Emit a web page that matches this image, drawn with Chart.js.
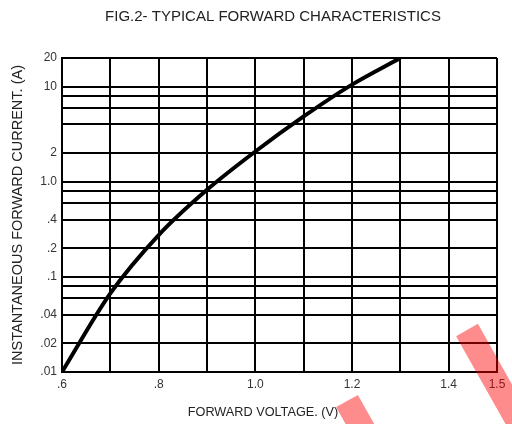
<!DOCTYPE html>
<html>
<head>
<meta charset="utf-8">
<script src="https://cdn.jsdelivr.net/npm/chart.js@4.4.1/dist/chart.umd.min.js"></script>
<style>
  html, body { margin: 0; padding: 0; background: #fff; }
</style>
</head>
<body>
<canvas id="grafico" width="512" height="424"></canvas>
<script>
// Datos (voltaje en V, corriente en A)
const voltaje = [0.6, 0.7, 0.8, 0.9, 1.0, 1.1, 1.2, 1.3];
const corriente = [0.01, 0.067, 0.275, 0.822, 2.08, 4.86, 10.5, 20];

// Líneas de la rejilla y etiquetas de los ejes
const lineasY = [0.01, 0.02, 0.04, 0.06, 0.08, 0.1, 0.2, 0.4, 0.6, 0.8, 1, 2, 4, 6, 8, 10, 20];
const etiquetasY = { 0.01: '.01', 0.02: '.02', 0.04: '.04', 0.1: '.1', 0.2: '.2', 0.4: '.4', 1: '1.0', 2: '2', 10: '10', 20: '20' };
const etiquetasX = { 6: '.6', 8: '.8', 10: '1.0', 12: '1.2', 14: '1.4', 15: '1.5' };

const titulo = 'FIG.2- TYPICAL FORWARD CHARACTERISTICS';
const tituloX = 'FORWARD VOLTAGE. (V)';
const tituloY = 'INSTANTANEOUS FORWARD CURRENT. (A)';

const fuente = "'Liberation Sans', Arial, sans-serif";

// Título principal y título del eje X (colocados como en la figura)
const titulos = {
    id: 'titulos',
    afterDraw(chart) {
        const c = chart.ctx;
        c.save();
        c.fillStyle = '#222';
        c.textAlign = 'center';
        c.textBaseline = 'middle';
        c.font = '15px ' + fuente;
        c.fillText(titulo, 273, 17);
        c.font = '12.7px ' + fuente;
        c.fillText(tituloX, 263, 412);
        c.restore();
    }
};

// Marca roja diagonal que aparece sobre la imagen original
const marcaRoja = {
    id: 'marcaRoja',
    afterDraw(chart) {
        const c = chart.ctx;
        c.save();
        c.strokeStyle = 'rgba(255, 0, 0, 0.45)';
        c.lineWidth = 25;
        c.lineCap = 'butt';
        c.beginPath();
        c.moveTo(467, 330);
        c.lineTo(530, 442);
        c.moveTo(347, 401);
        c.lineTo(370, 442);
        c.stroke();
        c.restore();
    }
};

const ctx = document.getElementById('grafico');
new Chart(ctx, {
    type: 'line',
    data: {
        datasets: [{
            data: voltaje.map((v, i) => ({ x: v, y: corriente[i] })),
            borderColor: '#000',
            borderWidth: 4,
            pointRadius: 0,
            cubicInterpolationMode: 'monotone',
            fill: false
        }]
    },
    options: {
        responsive: false,
        animation: false,
        layout: { padding: { left: 0, right: 15, top: 58, bottom: 0 } },
        plugins: {
            legend: { display: false },
            tooltip: { enabled: false },
            title: { display: false }
        },
        scales: {
            x: {
                type: 'linear',
                min: 0.6,
                max: 1.5,
                ticks: {
                    stepSize: 0.1,
                    autoSkip: false,
                    maxRotation: 0,
                    padding: 5,
                    color: '#333',
                    font: { family: fuente, size: 12 },
                    callback: (v) => etiquetasX[Math.round(v * 10)] || ''
                },
                grid: { color: '#000', lineWidth: 2, drawTicks: false },
                border: { color: '#000', width: 2 },
                afterFit: (s) => { s.height = 52; }
            },
            y: {
                type: 'logarithmic',
                min: 0.01,
                max: 20,
                afterBuildTicks: (s) => { s.ticks = lineasY.map(v => ({ value: v })); },
                ticks: {
                    autoSkip: false,
                    padding: 5,
                    color: '#333',
                    font: { family: fuente, size: 12 },
                    callback: (v) => etiquetasY[v] || ''
                },
                grid: { color: '#000', lineWidth: 2, drawTicks: false },
                border: { color: '#000', width: 2 },
                title: {
                    display: true,
                    text: tituloY,
                    color: '#222',
                    font: { family: fuente, size: 14.5 },
                    padding: { top: 9, bottom: 9 }
                },
                afterFit: (s) => { s.width = 62; }
            }
        }
    },
    plugins: [titulos, marcaRoja]
});
</script>
</body>
</html>
